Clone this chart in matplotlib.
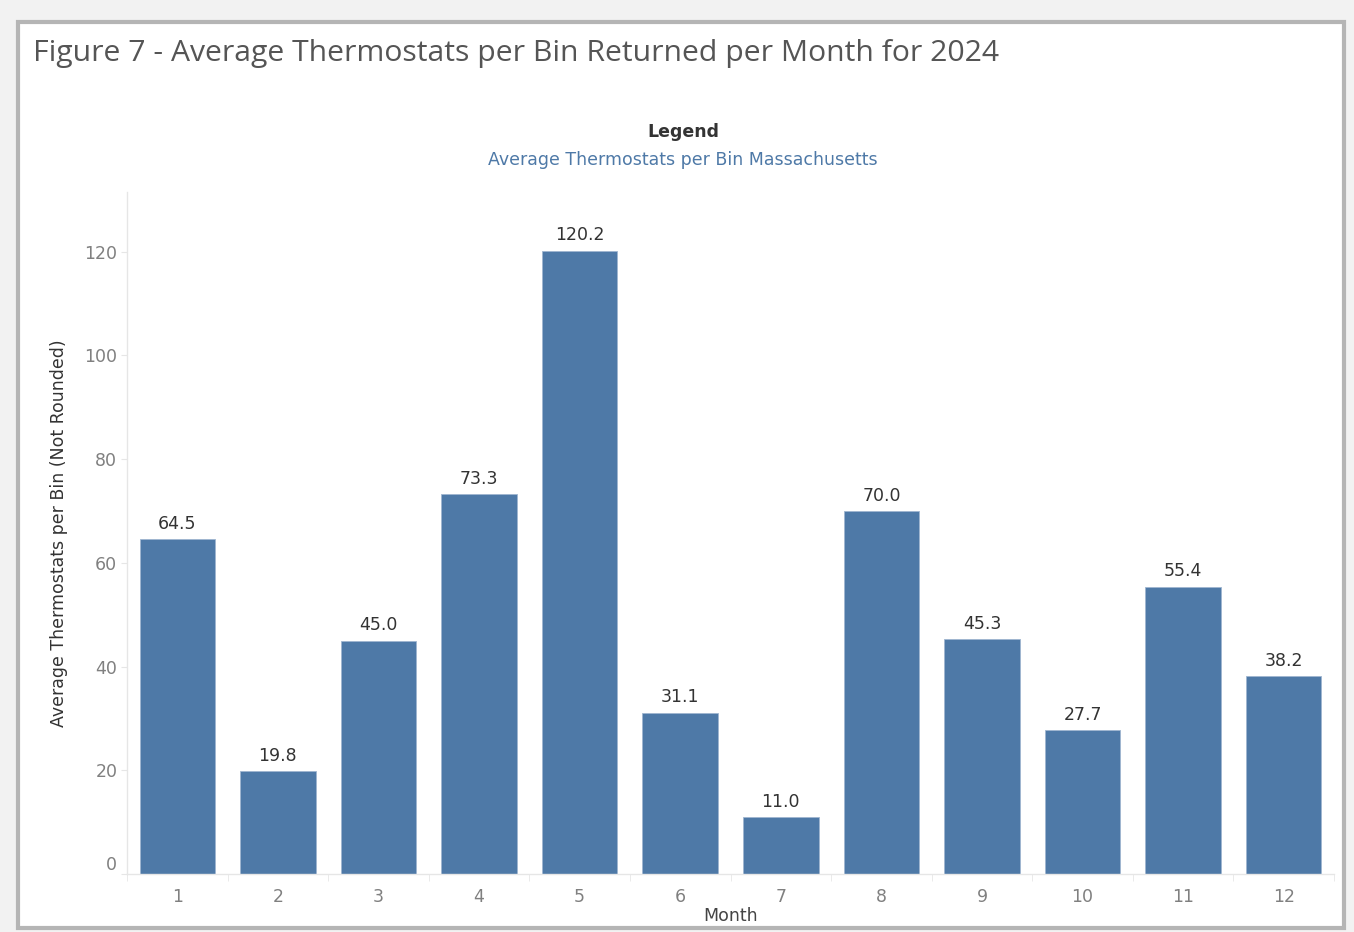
import matplotlib.pyplot as plt
from matplotlib.patches import Rectangle

months = [1, 2, 3, 4, 5, 6, 7, 8, 9, 10, 11, 12]
avg_per_bin = [64.5, 19.8, 45.0, 73.3, 120.2, 31.1, 11.0, 70.0, 45.3, 27.7, 55.4, 38.2]
y_ticks = [0, 20, 40, 60, 80, 100, 120]

plt.rcParams['font.family'] = ['DejaVu Sans']

W, H = 1354, 932
fig = plt.figure(figsize=(W / 100, H / 100), dpi=100)
fig.patch.set_facecolor('#f2f2f2')

# white card with a grey frame
card = Rectangle((18 / W, 1 - 928 / H), (1344 - 18) / W, (928 - 22) / H,
                 transform=fig.transFigure, facecolor='white',
                 edgecolor='#b5b5b5', linewidth=3, zorder=-1)
fig.patches.append(card)

ax = fig.add_axes([127 / W, 1 - 874 / H, (1334 - 127) / W, (874 - 192) / H])
ax.set_zorder(1)
ax.set_facecolor('white')

bar_color = '#4e79a7'
ax.bar(months, avg_per_bin, width=0.75, color=bar_color, edgecolor='#9fb6d0', linewidth=0.6)

for m, v in zip(months, avg_per_bin):
    ax.text(m, v + 1.2, f'{v:.1f}', ha='center', va='bottom', fontsize=12.5, color='#333333')

ax.set_xlim(0.5, 12.5)
ax.set_ylim(0, 131.5)
ax.set_xticks(months)
ax.set_xticklabels([str(m) for m in months])
ax.set_xticks([m + 0.5 for m in [0] + months], minor=True)
ax.set_yticks(y_ticks)
ax.tick_params(axis='x', which='major', length=0, pad=10, labelsize=12.5, labelcolor='#808080')
ax.tick_params(axis='x', which='minor', length=5, color='#e6e6e6', direction='out')
ax.tick_params(axis='y', length=4, color='#e6e6e6', pad=3, labelsize=12.5, labelcolor='#808080')
# Tableau keeps the zero label above the baseline
ax.get_yticklabels()[0].set_va('bottom')

for s in ['top', 'right']:
    ax.spines[s].set_visible(False)
for s in ['left', 'bottom']:
    ax.spines[s].set_color('#e6e6e6')
    ax.spines[s].set_linewidth(1)

ax.set_xlabel('Month', fontsize=12.5, color='#444444', labelpad=1)
ax.set_ylabel('Average Thermostats per Bin (Not Rounded)', fontsize=12.5, color='#333333', labelpad=12)

fig.text(33 / W, 1 - 53 / H, 'Figure 7 - Average Thermostats per Bin Returned per Month for 2024',
         fontsize=21.7, color='#555555', ha='left', va='center', family=['Open Sans'])
fig.text(683 / W, 1 - 132 / H, 'Legend', fontsize=12.5, fontweight='bold', color='#333333',
         ha='center', va='center')
fig.text(683 / W, 1 - 160 / H, 'Average Thermostats per Bin Massachusetts', fontsize=12.5,
         color=bar_color, ha='center', va='center')

fig.savefig('out.png', dpi=100, facecolor=fig.get_facecolor())
